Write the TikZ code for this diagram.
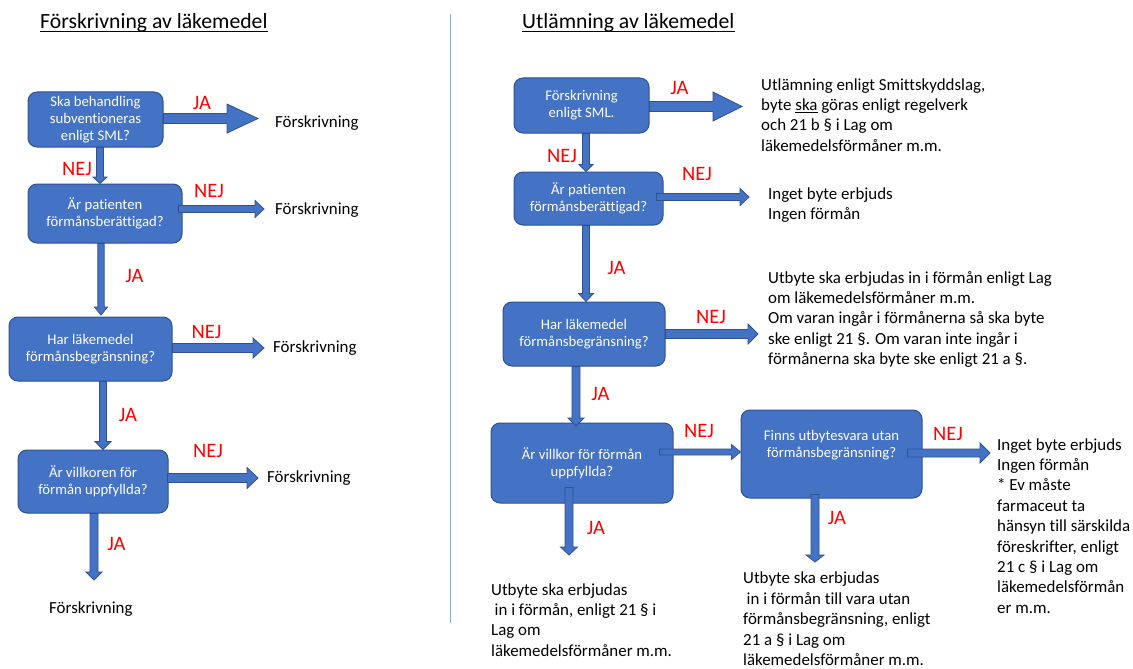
\documentclass[tikz,border=0pt]{standalone}
\usepackage{fontspec}
\setmainfont{Carlito}[Ligatures=NoCommon]
\usetikzlibrary{calc}
\definecolor{boxblue}{HTML}{4472C4}
\definecolor{boxline}{HTML}{2F528F}
\definecolor{divline}{HTML}{8FAADC}
\definecolor{nejred}{HTML}{FF0000}
\newcommand{\fTitle}{\fontsize{21.7}{26}\selectfont}
\newcommand{\fBox}{\fontsize{14.7}{17.3}\selectfont}
\newcommand{\fBody}{\fontsize{16.9}{20.4}\selectfont}
\newcommand{\fRed}{\fontsize{20.5}{24}\selectfont}
\newcommand{\harr}[5]{\path[blk] let \p1=(#1), \p2=(#2) in (\x1,\y1+#3) -- (\x2-#5,\y1+#3) -- (\x2-#5,\y1+#4) -- (\x2,\y1) -- (\x2-#5,\y1-#4) -- (\x2-#5,\y1-#3) -- (\x1,\y1-#3) -- cycle;}
\newcommand{\varr}[5]{\path[blk] let \p1=(#1), \p2=(#2) in (\x1-#3,\y1) -- (\x1-#3,\y2+#5) -- (\x1-#4,\y2+#5) -- (\x1,\y2) -- (\x1+#4,\y2+#5) -- (\x1+#3,\y2+#5) -- (\x1+#3,\y1) -- cycle;}
\tikzset{
  box/.style={draw=boxline, fill=boxblue, rounded corners=9pt, line width=1pt, text=white, align=center, font=\fBox, inner sep=2pt},
  boxtxt/.style={text=white, align=center, font=\fBox, inner sep=0pt},
  blk/.style={fill=boxblue, draw=boxline, line width=0.8pt, line join=miter},
  redlbl/.style={text=nejred, font=\fRed, anchor=base, inner sep=0pt},
  side/.style={font=\fBody, anchor=base west, inner sep=0pt, align=left},
  titletxt/.style={font=\fTitle, anchor=base west, inner sep=0pt},
  uline/.style={draw=black, line width=1pt},
}
\begin{document}
\begin{tikzpicture}[x=1pt,y=-1pt]
\useasboundingbox (0,0) rectangle (1133,669);
\fill[white] (0,0) rectangle (1133,669);

% divider
\draw[divline, line width=1pt] (450,14) -- (450,623);

% titles
\node[titletxt] (tl) at (40,29) {Förskrivning av läkemedel};
\draw[uline] ([yshift=-2.6pt]tl.base west) -- ([yshift=-2.6pt]tl.base east);
\node[titletxt] (tr) at (522,29) {Utlämning av läkemedel};
\draw[uline] ([yshift=-2.6pt]tr.base west) -- ([yshift=-2.6pt]tr.base east);

% left boxes
\node[box, minimum width=135pt, minimum height=55pt] (b1) at (95.5,119.5) {Ska behandling\\subventioneras\\enligt SML?};
\node[box, minimum width=154pt, minimum height=59pt] (b2) at (105,213.5) {Är patienten\\förmånsberättigad?};
\node[box, minimum width=163pt, minimum height=64pt] (b3) at (90.5,349) {Har läkemedel\\förmånsbegränsning?};
\node[box, minimum width=150pt, minimum height=63pt] (b4) at (93,481.5) {Är villkoren för\\förmån uppfyllda?};

% left outcome texts
\node[side] (f1) at (275,127) {Förskrivning};
\node[side] (f2) at (275,214) {Förskrivning};
\node[side] (f3) at (273,352) {Förskrivning};
\node[side] (f4) at (267,482) {Förskrivning};
\node[side] (f5) at (49,613) {Förskrivning};

% right boxes
\node[box, minimum width=135pt, minimum height=55pt] (r1) at (581.5,105.5) {Förskrivning\\enligt SML.};
\node[box, minimum width=149pt, minimum height=53pt] (r2) at (588.5,198.5) {Är patienten\\förmånsberättigad?};
\node[box, minimum width=162pt, minimum height=64pt] (r3) at (584,334) {Har läkemedel\\förmånsbegränsning?};
\node[box, minimum width=182pt, minimum height=80pt] (r4) at (582,463) {Är villkor för förmån\\uppfyllda?};
\node[box, minimum width=181pt, minimum height=88pt] (r5) at (831.5,454) {};
\node[boxtxt] (r5t) at (831.5,445.5) {Finns utbytesvara utan\\förmånsbegränsning?};

% right texts (anchor: baseline of last line)
\node[side] (o1) at (761,151.2) {Utlämning enligt Smittskyddslag,\\byte \underline{ska} göras enligt regelverk\\och 21 b § i Lag om\\läkemedelsförmåner m.m.};
\node[side] (o2) at (768,219.4) {Inget byte erbjuds\\Ingen förmån};
\node[side] (o3) at (768,364.6) {Utbyte ska erbjudas in i förmån enligt Lag\\om läkemedelsförmåner m.m.\\Om varan ingår i förmånerna så ska byte\\ske enligt 21 §. Om varan inte ingår i\\förmånerna ska byte ske enligt 21 a §.};
\node[side] (o4) at (491,656.2) {Utbyte ska erbjudas\\\hspace*{3.5pt}in i förmån, enligt 21 § i\\Lag om\\läkemedelsförmåner m.m.};
\node[side] (o5) at (743,665.4) {Utbyte ska erbjudas\\\hspace*{3.5pt}in i förmån till vara utan\\förmånsbegränsning, enligt\\21 a § i Lag om\\läkemedelsförmåner m.m.};
\node[side] (o6) at (997,613.2) {Inget byte erbjuds\\Ingen förmån\\* Ev måste\\farmaceut ta\\hänsyn till särskilda\\föreskrifter, enligt\\21 c § i Lag om\\läkemedelsförmån\\er m.m.};

% arrow tips
\coordinate (tA1) at (258,119);
\coordinate (tA3) at (264,209);
\coordinate (tA4) at (101,315);
\coordinate (tA5) at (264,348);
\coordinate (tA7) at (258,478);
\coordinate (tA8) at (94,580);
\coordinate (tB1) at (742,106);
\coordinate (tB3) at (749,197);
\coordinate (tB5) at (758,334);
\coordinate (tB6) at (576,426);
\coordinate (tB8) at (990,453);
\coordinate (tB9) at (569,555);
\coordinate (tB10) at (815,562);

% left arrows
\harr{[yshift=1pt]b1.east}{tA1}{5}{14.5}{31}
\varr{[xshift=4.5pt]b1.south}{b2.north}{3.5}{7}{6.5}
\harr{[xshift=-4pt,yshift=4.5pt]b2.east}{tA3}{3.5}{8.5}{9}
\varr{[xshift=-4pt]b2.south}{tA4}{3.2}{6.5}{8}
\harr{[yshift=1pt]b3.east}{tA5}{4.5}{10}{11}
\varr{[xshift=12.5pt]b3.south}{b4.north}{3.5}{8}{8}
\harr{[xshift=-1pt,yshift=3.5pt]b4.east}{tA7}{4.5}{10.5}{11}
\varr{[xshift=1pt]b4.south}{tA8}{4}{8}{8}

% right arrows
\harr{[yshift=-1pt]r1.east}{tB1}{5}{14.5}{29}
\varr{[xshift=4.5pt]r1.south}{r2.north}{3.5}{7}{7}
\harr{[xshift=-7pt,yshift=1.5pt]r2.east}{tB3}{3.5}{8.5}{9}
\varr{[xshift=-2.5pt]r2.south}{r3.north}{3.5}{7.5}{8}
\harr{r3.east}{tB5}{4.5}{10}{10}
\varr{[xshift=-8pt]r3.south}{tB6}{4}{8}{8}
\harr{[xshift=-14pt,yshift=11pt]r4.east}{r5.west}{3}{7.5}{9}
\harr{[xshift=-15pt,yshift=1pt]r5.east}{tB8}{4}{10}{10}
\varr{[xshift=-13pt,yshift=16pt]r4.south}{tB9}{4}{8.5}{8}
\varr{[xshift=-16.5pt,yshift=4pt]r5.south}{tB10}{4}{9}{7}

% red labels left
\node[redlbl] (l1) at (202,110) {JA};
\node[redlbl] (l2) at (77,175) {NEJ};
\node[redlbl] (l3) at (209,197) {NEJ};
\node[redlbl] (l4) at (134.5,282) {JA};
\node[redlbl] (l5) at (206.5,338) {NEJ};
\node[redlbl] (l6) at (128,421) {JA};
\node[redlbl] (l7) at (208,457) {NEJ};
\node[redlbl] (l8) at (116.5,550) {JA};

% red labels right
\node[redlbl] (m1) at (679.5,95) {JA};
\node[redlbl] (m2) at (562,162) {NEJ};
\node[redlbl] (m3) at (697,180) {NEJ};
\node[redlbl] (m4) at (616.5,274) {JA};
\node[redlbl] (m5) at (711,323) {NEJ};
\node[redlbl] (m6) at (600.5,400) {JA};
\node[redlbl] (m7) at (699,437) {NEJ};
\node[redlbl] (m8) at (948,440) {NEJ};
\node[redlbl] (m9) at (596,534) {JA};
\node[redlbl] (m10) at (837,524) {JA};
\end{tikzpicture}
\end{document}
